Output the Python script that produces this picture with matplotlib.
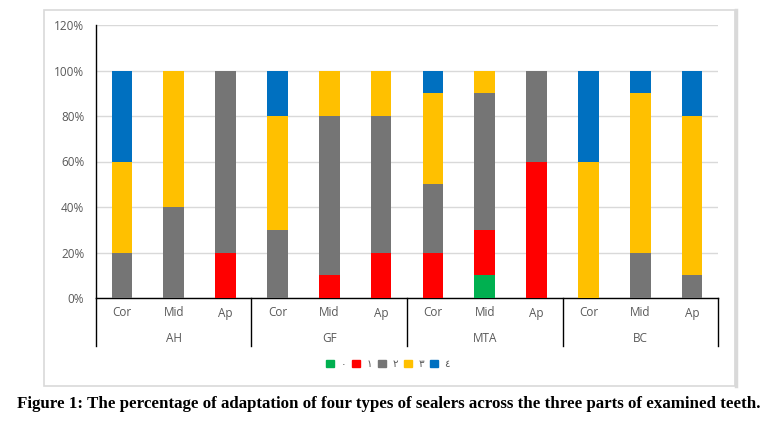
import matplotlib
matplotlib.use("Agg")
import matplotlib.pyplot as plt
from matplotlib.patches import Rectangle
from matplotlib.lines import Line2D
import numpy as np

groups = ["AH", "GF", "MTA", "BC"]
parts = ["Cor", "Mid", "Ap"]
series_names = ["٠", "١", "٢", "٣", "٤"]
series_colors = ["#00B050", "#FF0000", "#757575", "#FFC000", "#0070C0"]

# values in % per bar (order: AH Cor, Mid, Ap, GF ..., MTA ..., BC ...)
s0 = [0, 0, 0, 0, 0, 0, 0, 10, 0, 0, 0, 0]
s1 = [0, 0, 20, 0, 10, 20, 20, 20, 60, 0, 0, 0]
s2 = [20, 40, 80, 30, 70, 60, 30, 60, 40, 0, 20, 10]
s3 = [40, 60, 0, 50, 20, 20, 40, 10, 0, 60, 70, 70]
s4 = [40, 0, 0, 20, 0, 0, 10, 0, 0, 40, 10, 20]
series = [s0, s1, s2, s3, s4]

W, H = 773, 421
fig = plt.figure(figsize=(W / 100, H / 100), dpi=100)
fig.patch.set_facecolor("white")

# outer chart border
fig.add_artist(Rectangle((44 / W, 1 - 386 / H), (735 - 44) / W, (386 - 10) / H,
                         transform=fig.transFigure, fill=False,
                         edgecolor="#D9D9D9", linewidth=1.2))
fig.add_artist(Line2D([736 / W, 736 / W], [1 - 386 / H, 1 - 10 / H],
                      transform=fig.transFigure, color="#D9D9D9", linewidth=2.5))

ax = fig.add_axes([96 / W, 1 - 298 / H, (718 - 96) / W, (298 - 25) / H])
n = len(s0)
x = np.arange(n)
bottom = np.zeros(n)
for vals, name, col in zip(series, series_names, series_colors):
    v = np.array(vals, dtype=float)
    ax.bar(x, v, 0.4, bottom=bottom, color=col, label=name, zorder=3)
    bottom += v

ax.set_xlim(-0.5, n - 0.5)
ax.set_ylim(0, 120)
ax.set_yticks(np.arange(0, 121, 20))
ax.set_yticklabels([f"{t}%" for t in range(0, 121, 20)], color="#595959",
                   fontsize=8.5, family="Open Sans")
ax.yaxis.grid(True, color="#D9D9D9", linewidth=1, zorder=0)
ax.tick_params(axis="y", length=0, pad=8.5)
ax.set_xticks([])
for sp in ["top", "right"]:
    ax.spines[sp].set_visible(False)
ax.spines["left"].set_color("black")
ax.spines["bottom"].set_color("black")
ax.spines["left"].set_linewidth(1)
ax.spines["bottom"].set_linewidth(1)

trans = ax.get_xaxis_transform()
px = 1 / (298 - 25)
for i in range(n):
    ax.text(i, -15 * px, parts[i % 3], transform=trans, ha="center", va="center",
            color="#595959", fontsize=8.5, family="Open Sans")
for g, name in enumerate(groups):
    ax.text(3 * g + 1, -41 * px, name, transform=trans, ha="center", va="center",
            color="#595959", fontsize=8.5, family="Open Sans")
for g in range(len(groups) + 1):
    xs = 3 * g - 0.5
    ax.plot([xs, xs], [0, -48 * px], transform=trans, color="black",
            linewidth=1, clip_on=False)

handles = [Rectangle((0, 0), 1, 1, color=c) for c in series_colors]
fig.legend(handles, series_names, loc="center", bbox_to_anchor=(388 / W, 1 - 364 / H),
           ncol=5, frameon=False, prop={"family": "DejaVu Sans", "size": 7.5},
           handlelength=0.75, handleheight=0.75, handletextpad=0.6, columnspacing=0.6,
           labelcolor="#595959")

fig.text(389 / W, 1 - 404 / H,
         "Figure 1: The percentage of adaptation of four types of sealers across the three parts of examined teeth.",
         ha="center", va="center", fontsize=12.2, fontweight="bold",
         family="Liberation Serif", color="black")

fig.savefig("out.png", dpi=100, facecolor="white")
